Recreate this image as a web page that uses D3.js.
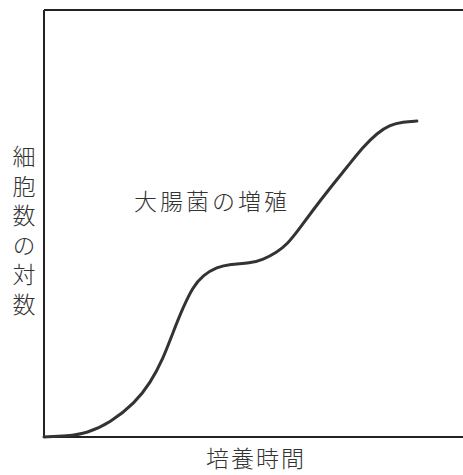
<!DOCTYPE html>
<html><head><meta charset="utf-8">
<script src="https://cdn.jsdelivr.net/npm/d3@7"></script>
<style>
html,body{margin:0;padding:0;background:#fff;}
text{font-family:"Noto Sans CJK JP","Noto Sans CJK SC",sans-serif;fill:#333;}
</style></head><body>
<svg id="c" width="463" height="475"></svg>
<script>
// Data (arbitrary units: time 0-100, log cell count 0-100)
const time  = [0, 5.5, 10.3, 15.8, 21.8, 25.4, 28.5, 30.9, 33.3, 35.6, 38.0, 41.4, 44.5, 49.3, 52.4, 55.7, 58.1, 61.2, 64.4, 68.4, 72.5, 76.3, 79.7, 82.8, 85.9, 89.2];
const logN  = [0, 0.2, 0.9, 3.3, 8.0, 12.6, 18.3, 24.6, 30.4, 35.1, 37.9, 39.8, 40.5, 40.7, 41.5, 43.3, 45.0, 48.9, 53.2, 58.3, 63.2, 67.9, 71.2, 73.1, 73.8, 74.0];
const curveLabel = "大腸菌の増殖";
const xTitle = "培養時間";
const yTitle = "細胞数の対数";

const svg = d3.select("#c");
const x = d3.scaleLinear().domain([0,100]).range([44,462]);
const y = d3.scaleLinear().domain([0,100]).range([437,10]);

// axes frame (left, top, bottom)
const g = svg.append("g").attr("stroke","#222").attr("stroke-width",2).attr("fill","none");
g.append("line").attr("x1",x(0)).attr("x2",x(0)).attr("y1",y(100)).attr("y2",y(0));
g.append("line").attr("x1",x(0)).attr("x2",x(100)+2).attr("y1",y(100)).attr("y2",y(100));
g.append("line").attr("x1",x(0)).attr("x2",x(100)+2).attr("y1",y(0)).attr("y2",y(0));

const pts = time.map((t,i)=>[t,logN[i]]);
const line = d3.line().x(d=>x(d[0])).y(d=>y(d[1])).curve(d3.curveBasis);
svg.append("path").datum(pts).attr("d",line)
  .attr("fill","none").attr("stroke","#333").attr("stroke-width",3).attr("stroke-linecap","round");

svg.append("text").attr("x",134).attr("y",210)
  .attr("font-size",23).attr("font-weight",300).attr("letter-spacing",3)
  .text(curveLabel);

svg.append("text").attr("x",256).attr("y",467).attr("text-anchor","middle")
  .attr("font-size",23).attr("font-weight",300).attr("letter-spacing",2)
  .text(xTitle);

svg.append("text").attr("x",24).attr("y",145)
  .attr("font-size",23).attr("font-weight",300).attr("letter-spacing",6.5)
  .style("writing-mode","vertical-rl").style("text-orientation","upright")
  .text(yTitle);
</script></body></html>
